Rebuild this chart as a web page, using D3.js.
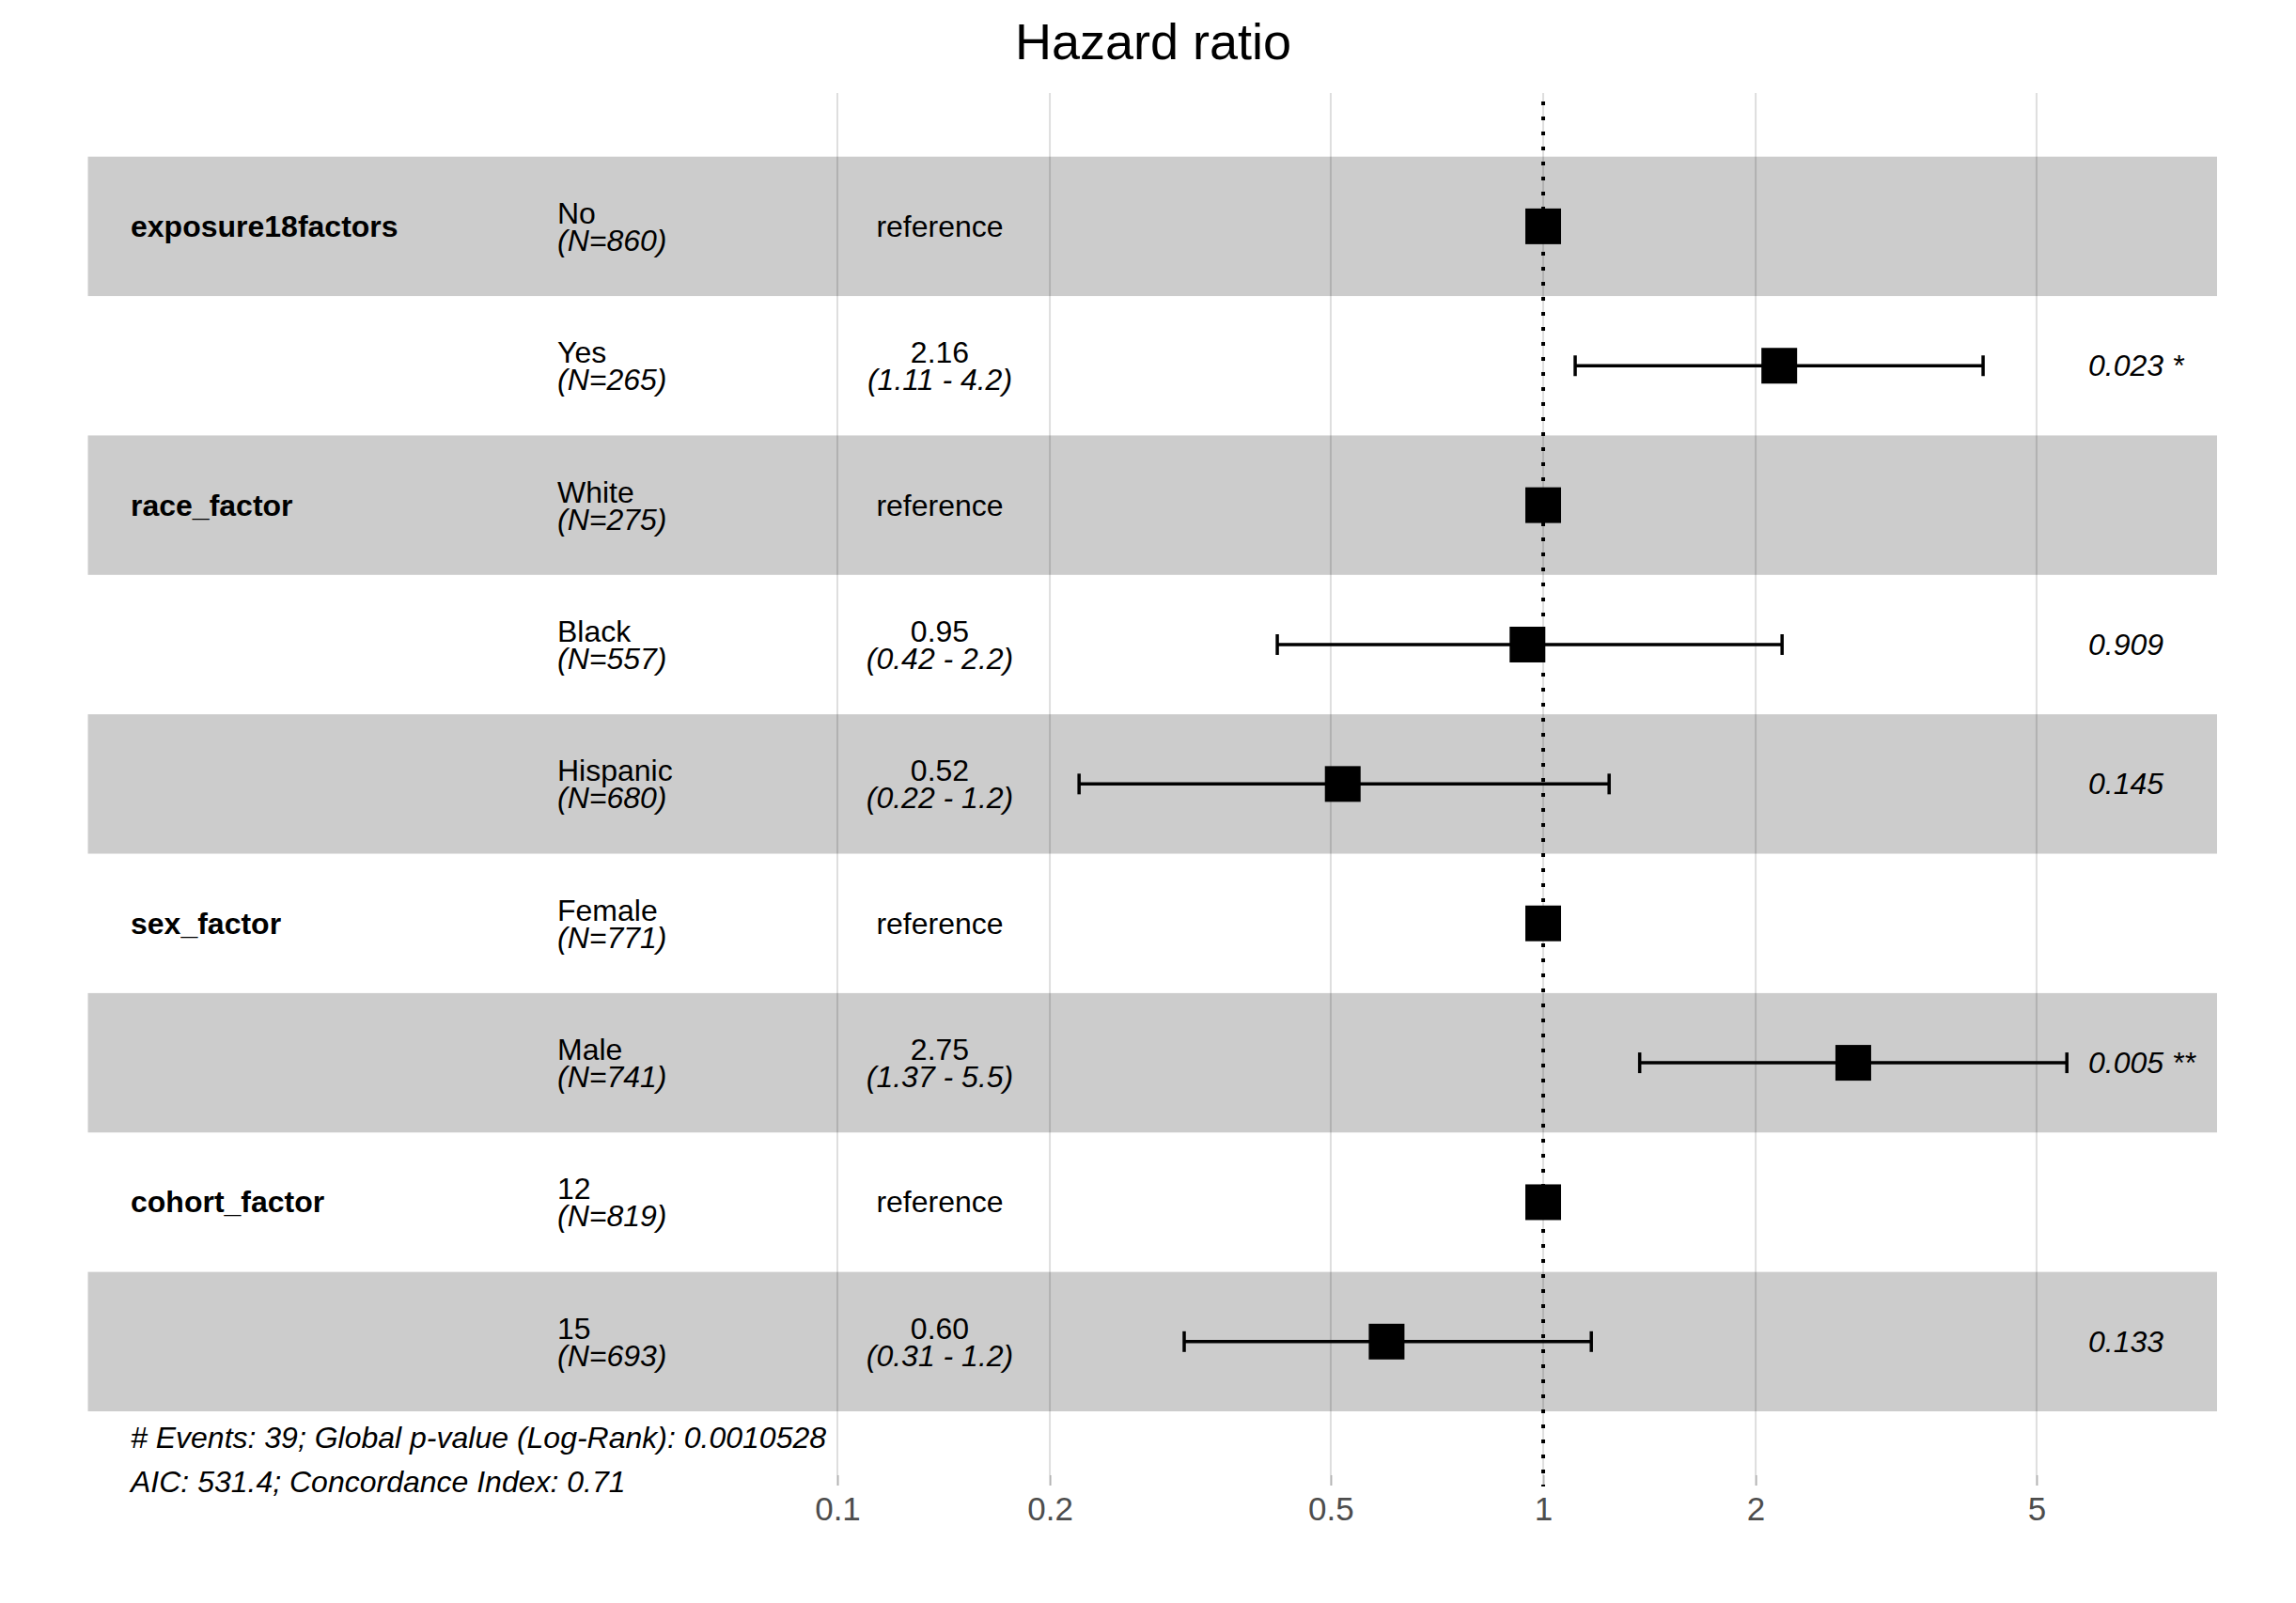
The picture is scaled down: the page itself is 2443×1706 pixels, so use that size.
<!DOCTYPE html>
<html>
<head>
<meta charset="utf-8">
<script src="https://cdn.jsdelivr.net/npm/d3@7"></script>
<style>
  html, body { margin: 0; padding: 0; background: #ffffff; }
  text { font-family: "Liberation Sans", Arial, sans-serif; }
</style>
</head>
<body>
<div id="chart"></div>
<script>

// ---- data ----
var variableNames = ["exposure18factors", "", "race_factor", "", "", "sex_factor", "", "cohort_factor", ""];
var levels        = ["No", "Yes", "White", "Black", "Hispanic", "Female", "Male", "12", "15"];
var nCounts       = [860, 265, 275, 557, 680, 771, 741, 819, 693];
var hazardRatios  = [1, 2.16, 1, 0.95, 0.52, 1, 2.75, 1, 0.60];
var ciLower       = [null, 1.11, null, 0.42, 0.22, null, 1.37, null, 0.31];
var ciUpper       = [null, 4.20, null, 2.18, 1.24, null, 5.52, null, 1.17];
var ciText        = ["", "(1.11 - 4.2)", "", "(0.42 - 2.2)", "(0.22 - 1.2)", "", "(1.37 - 5.5)", "", "(0.31 - 1.2)"];
var pValues       = [null, "0.023", null, "0.909", "0.145", null, "0.005", null, "0.133"];
var tickValues    = [0.1, 0.2, 0.5, 1, 2, 5];
var footerLines   = [
    "# Events: 39; Global p-value (Log-Rank): 0.0010528",
    "AIC: 531.4; Concordance Index: 0.71"
];

var width = 2443, height = 1706;

function stars(p) {
    var v = +p;
    if (v < 0.001) return " ***";
    if (v < 0.01) return " **";
    if (v < 0.05) return " *";
    return "";
}

var svg = d3.select("#chart")
    .append("svg")
        .attr("width", width)
        .attr("height", height);

// scales
var x = d3.scaleLog()
    .domain([0.1, 5])
    .range([891, 891 + 751 * Math.log10(50)]);

var y = d3.scaleBand()
    .domain(d3.range(levels.length))
    .range([166.7, 1502])
    .padding(0);

var bandLeft = 93.5, bandRight = 2359;
var gridTop = 99, axisY = 1570;

// title
svg.append("text")
    .attr("x", 1227)
    .attr("y", 63)
    .attr("text-anchor", "middle")
    .attr("font-size", 54)
    .attr("fill", "#000")
    .text("Hazard ratio");

// vertical gridlines
svg.append("g")
    .selectAll("line")
    .data(tickValues)
    .join("line")
        .attr("x1", function (d) { return x(d); })
        .attr("x2", function (d) { return x(d); })
        .attr("y1", gridTop)
        .attr("y2", axisY)
        .attr("stroke", "#dedede")
        .attr("stroke-width", 2);

// alternating row bands
svg.append("g")
    .selectAll("rect")
    .data(d3.range(levels.length).filter(function (i) { return i % 2 === 0; }))
    .join("rect")
        .attr("x", bandLeft)
        .attr("y", function (i) { return y(i); })
        .attr("width", bandRight - bandLeft)
        .attr("height", y.bandwidth())
        .attr("fill", "#000")
        .attr("fill-opacity", 0.2);

// axis
var axis = svg.append("g")
    .attr("transform", "translate(0," + axisY + ")")
    .call(
        d3.axisBottom(x)
            .tickValues(tickValues)
            .tickFormat(d3.format("~g"))
            .tickSize(11)
            .tickPadding(12)
    );

axis.select(".domain").remove();
axis.selectAll(".tick line")
    .attr("stroke", "#b3b3b3")
    .attr("stroke-width", 2);
axis.selectAll(".tick text")
    .attr("font-size", 35)
    .attr("fill", "#4d4d4d")
    .attr("font-family", "Liberation Sans, Arial, sans-serif");

// reference line at HR = 1
svg.append("line")
    .attr("x1", x(1))
    .attr("x2", x(1))
    .attr("y1", 108)
    .attr("y2", 1582)
    .attr("stroke", "#000")
    .attr("stroke-width", 4)
    .attr("stroke-dasharray", "4 12");

function cy(i) { return y(i) + y.bandwidth() / 2; }

var rows = d3.range(levels.length);

// confidence intervals
var ciRows = rows.filter(function (i) { return ciLower[i] !== null; });
var ci = svg.append("g")
    .attr("stroke", "#000")
    .attr("stroke-width", 3.5);

ci.selectAll("line.ci")
    .data(ciRows)
    .join("line")
        .attr("class", "ci")
        .attr("x1", function (i) { return x(ciLower[i]); })
        .attr("x2", function (i) { return x(ciUpper[i]); })
        .attr("y1", cy)
        .attr("y2", cy);

ci.selectAll("line.capl")
    .data(ciRows)
    .join("line")
        .attr("class", "capl")
        .attr("x1", function (i) { return x(ciLower[i]); })
        .attr("x2", function (i) { return x(ciLower[i]); })
        .attr("y1", function (i) { return cy(i) - 11; })
        .attr("y2", function (i) { return cy(i) + 11; });

ci.selectAll("line.capu")
    .data(ciRows)
    .join("line")
        .attr("class", "capu")
        .attr("x1", function (i) { return x(ciUpper[i]); })
        .attr("x2", function (i) { return x(ciUpper[i]); })
        .attr("y1", function (i) { return cy(i) - 11; })
        .attr("y2", function (i) { return cy(i) + 11; });

// point estimates
var sq = 38;
svg.append("g")
    .selectAll("rect")
    .data(rows)
    .join("rect")
        .attr("x", function (i) { return x(hazardRatios[i]) - sq / 2; })
        .attr("y", function (i) { return cy(i) - sq / 2; })
        .attr("width", sq)
        .attr("height", sq)
        .attr("fill", "#000");

// text columns
var fs = 32;
var txt = svg.append("g").attr("font-size", fs).attr("fill", "#000");

// variable names
txt.selectAll("text.var")
    .data(rows.filter(function (i) { return variableNames[i] !== ""; }))
    .join("text")
        .attr("class", "var")
        .attr("x", 139)
        .attr("y", function (i) { return cy(i) + 11; })
        .attr("font-weight", "bold")
        .text(function (i) { return variableNames[i]; });

// levels + N
txt.selectAll("text.lvl")
    .data(rows)
    .join("text")
        .attr("class", "lvl")
        .attr("x", 593)
        .attr("y", function (i) { return cy(i) - 3; })
        .text(function (i) { return levels[i]; });

txt.selectAll("text.n")
    .data(rows)
    .join("text")
        .attr("class", "n")
        .attr("x", 593)
        .attr("y", function (i) { return cy(i) + 26; })
        .attr("font-style", "italic")
        .text(function (i) { return "(N=" + nCounts[i] + ")"; });

// estimates
txt.selectAll("text.est")
    .data(rows)
    .join("text")
        .attr("class", "est")
        .attr("x", 1000)
        .attr("y", function (i) { return ciLower[i] === null ? cy(i) + 11 : cy(i) - 3; })
        .attr("text-anchor", "middle")
        .text(function (i) { return ciLower[i] === null ? "reference" : hazardRatios[i].toFixed(2); });

txt.selectAll("text.cit")
    .data(ciRows)
    .join("text")
        .attr("class", "cit")
        .attr("x", 1000)
        .attr("y", function (i) { return cy(i) + 26; })
        .attr("text-anchor", "middle")
        .attr("font-style", "italic")
        .text(function (i) { return ciText[i]; });

// p-values
txt.selectAll("text.p")
    .data(rows.filter(function (i) { return pValues[i] !== null; }))
    .join("text")
        .attr("class", "p")
        .attr("x", 2222)
        .attr("y", function (i) { return cy(i) + 11; })
        .attr("font-style", "italic")
        .text(function (i) { return pValues[i] + stars(pValues[i]); });

// footer
svg.append("g")
    .selectAll("text")
    .data(footerLines)
    .join("text")
        .attr("x", 139)
        .attr("y", function (d, i) { return 1541 + i * 46.5; })
        .attr("font-size", 32)
        .attr("font-style", "italic")
        .attr("fill", "#000")
        .text(function (d) { return d; });

</script>
</body>
</html>
